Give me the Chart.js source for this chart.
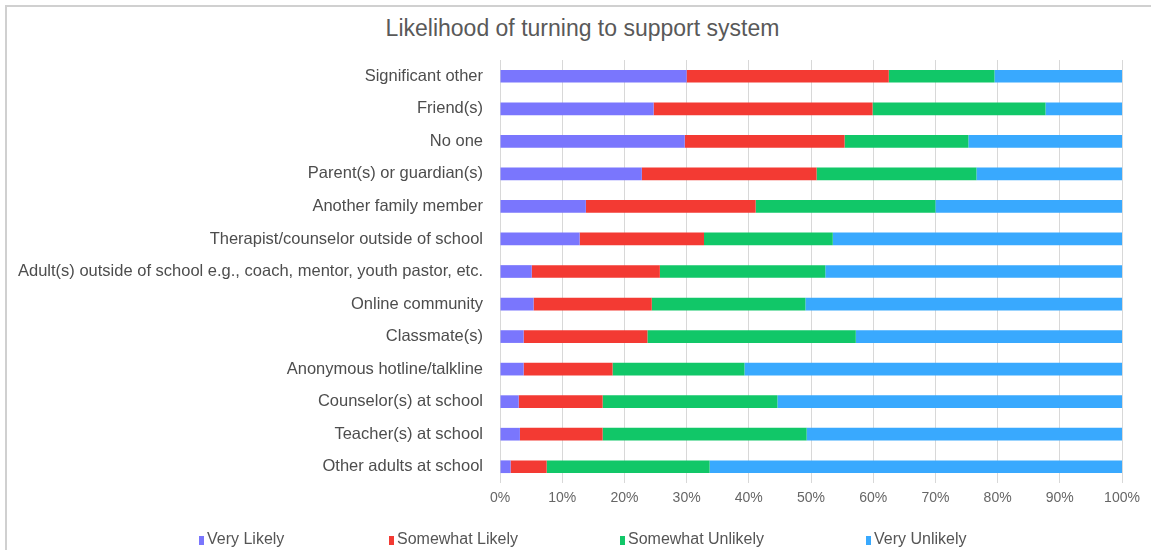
<!DOCTYPE html>
<html>
<head>
<meta charset="utf-8">
<script src="https://cdn.jsdelivr.net/npm/chart.js@4/dist/chart.umd.min.js"></script>
<style>
  body { margin: 0; background: #fff; font-family: 'Liberation Sans', Arial, sans-serif; }
  #wrap { position: relative; width: 1151px; height: 550px; overflow: hidden; }
  #frame { position: absolute; left: 5px; top: 5px; width: 1200px; height: 600px;
           border-top: 2px solid #d0d0d0; border-left: 2px solid #d0d0d0; }
  #chart { position: absolute; left: 0; top: 0; }
  #title { position: absolute; left: 0; top: 14px; width: 1165px; text-align: center;
           font-size: 23px; color: #595959; line-height: 28px; }
  #legend { position: absolute; left: 0; top: 529px; width: 1151px; height: 20px; }
  .item { position: absolute; top: 0; font-size: 16px; color: #555; white-space: nowrap; line-height: 20px; }
  .item i { display: inline-block; width: 5px; height: 9px; margin-right: 3px; vertical-align: -1px; }
</style>
</head>
<body>
<div id="wrap">
  <div id="frame"></div>
  <div id="title">Likelihood of turning to support system</div>
  <canvas id="chart" width="1151" height="550"></canvas>
  <div id="legend"></div>
</div>
<script>
// Support system categories, top to bottom
const categories = [
  'Significant other',
  'Friend(s)',
  'No one',
  'Parent(s) or guardian(s)',
  'Another family member',
  'Therapist/counselor outside of school',
  'Adult(s) outside of school e.g., coach, mentor, youth pastor, etc.',
  'Online community',
  'Classmate(s)',
  'Anonymous hotline/talkline',
  'Counselor(s) at school',
  'Teacher(s) at school',
  'Other adults at school',
];

// Share of responses (%)
const veryLikely = [30.0, 24.7, 29.7, 22.8, 13.8, 12.8, 5.1, 5.4, 3.8, 3.8, 3.0, 3.2, 1.7];
const somewhatLikely = [32.5, 35.2, 25.7, 28.1, 27.3, 20.0, 20.6, 19.0, 19.9, 14.3, 13.5, 13.3, 5.8];
const somewhatUnlikely = [17.0, 27.8, 19.9, 25.7, 28.9, 20.7, 26.6, 24.7, 33.5, 21.2, 28.1, 32.8, 26.2];
const veryUnlikely = [20.5, 12.3, 24.7, 23.4, 30.0, 46.5, 47.7, 50.9, 42.8, 60.7, 55.4, 50.7, 66.3];

const seriesNames = ['Very Likely', 'Somewhat Likely', 'Somewhat Unlikely', 'Very Unlikely'];
const seriesColors = ['#7a76fd', '#f33a33', '#11c768', '#39a9fe'];
const seriesData = [veryLikely, somewhatLikely, somewhatUnlikely, veryUnlikely];

// x positions of the legend entries
const legendLeft = [199, 389, 620, 866];

const font = "'Liberation Sans', Arial, sans-serif";

const datasets = seriesData.map((data, i) => ({
  label: seriesNames[i],
  data,
  backgroundColor: seriesColors[i],
  borderWidth: 0,
  barPercentage: 0.39,
  categoryPercentage: 1,
}));

const chart = new Chart(document.getElementById('chart'), {
  type: 'bar',
  data: { labels: categories, datasets },
  options: {
    indexAxis: 'y',
    responsive: false,
    animation: false,
    devicePixelRatio: 1,
    layout: { padding: { left: 8, right: 29, top: 60, bottom: 37 } },
    plugins: {
      legend: { display: false },
      tooltip: { enabled: false },
    },
    scales: {
      x: {
        stacked: true,
        min: 0,
        max: 100,
        ticks: {
          stepSize: 10,
          color: '#666',
          padding: 7,
          font: { family: font, size: 14 },
          callback: v => v + '%',
        },
        grid: { color: '#d8d8d8', lineWidth: 1, drawTicks: false },
        border: { display: false },
        afterFit: scale => { scale.height = 30; },
      },
      y: {
        stacked: true,
        ticks: {
          color: '#4d4d4d',
          padding: 17,
          autoSkip: false,
          font: { family: font, size: 16.5 },
        },
        grid: { display: false, drawTicks: false },
        border: { display: false },
        afterFit: scale => { scale.width = 492; },
      },
    },
  },
});

// HTML legend built from the datasets
const legend = document.getElementById('legend');
chart.data.datasets.forEach((ds, i) => {
  const el = document.createElement('div');
  el.className = 'item';
  el.style.left = legendLeft[i] + 'px';
  const box = document.createElement('i');
  box.style.background = ds.backgroundColor;
  el.appendChild(box);
  el.appendChild(document.createTextNode(ds.label));
  legend.appendChild(el);
});
</script>
</body>
</html>
